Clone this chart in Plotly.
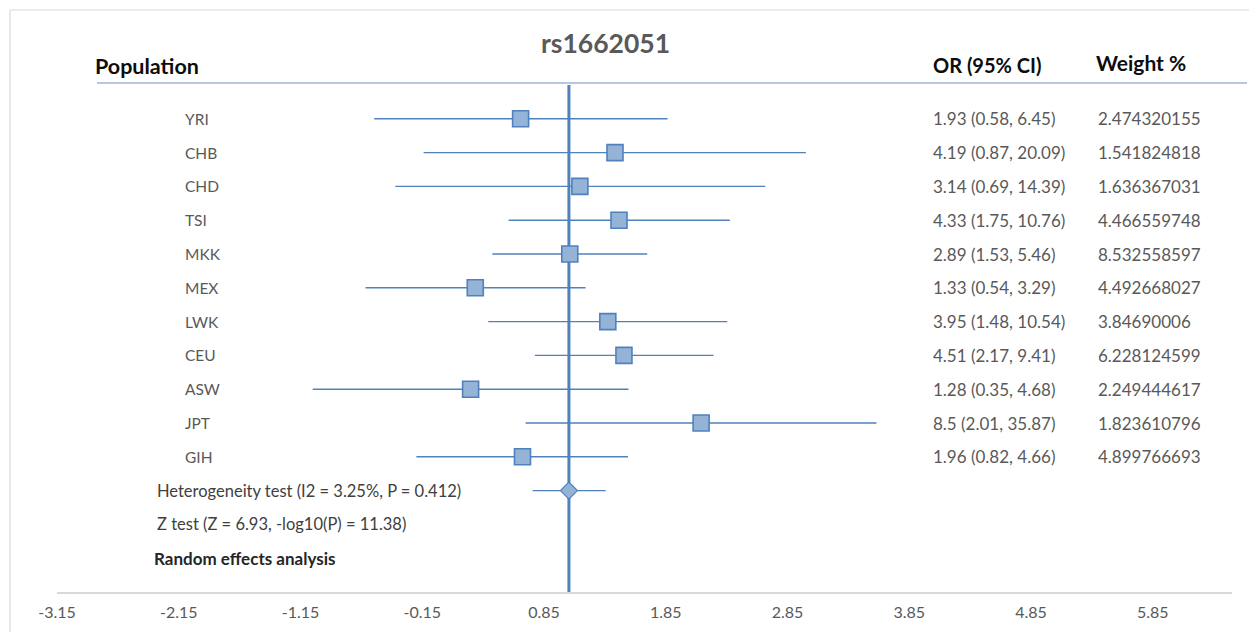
import math
import plotly.graph_objects as go

# Per-population odds ratios with 95% confidence intervals and meta-analysis weights
populations = ["YRI", "CHB", "CHD", "TSI", "MKK", "MEX", "LWK", "CEU", "ASW", "JPT", "GIH"]
odds_ratio = [1.93, 4.19, 3.14, 4.33, 2.89, 1.33, 3.95, 4.51, 1.28, 8.5, 1.96]
ci_low = [0.58, 0.87, 0.69, 1.75, 1.53, 0.54, 1.48, 2.17, 0.35, 2.01, 0.82]
ci_high = [6.45, 20.09, 14.39, 10.76, 5.46, 3.29, 10.54, 9.41, 4.68, 35.87, 4.66]
weights = [2.474320155, 1.541824818, 1.636367031, 4.466559748, 8.532558597,
           4.492668027, 3.84690006, 6.228124599, 2.249444617, 1.823610796, 4.899766693]

# Pooled (random effects) estimate
pooled_or = 2.87
pooled_low = 2.13
pooled_high = 3.88

summary_lines = [
    "Heterogeneity test (I2 = 3.25%, P = 0.412)",
    "Z test (Z = 6.93, -log10(P) = 11.38)",
]
summary_title = "Random effects analysis"
tick_values = [-3.15, -2.15, -1.15, -0.15, 0.85, 1.85, 2.85, 3.85, 4.85, 5.85]

W, H = 1249, 632
FONT = "Lato"
GREY = "#595959"
BLUE = "#4F81BD"
FILL = "#95B3D7"


def fx(px):
    return px / W


def fy(py):
    return 1 - py / H


rows = list(range(1, len(populations) + 1))
log_or = [math.log(v) for v in odds_ratio]
err_plus = [math.log(h) - math.log(v) for v, h in zip(odds_ratio, ci_high)]
err_minus = [math.log(v) - math.log(l) for v, l in zip(odds_ratio, ci_low)]

pooled_row = len(populations) + 1
pooled_x = math.log(pooled_or)

fig = go.Figure()

fig.add_trace(go.Scatter(
    x=log_or, y=rows, mode="markers",
    marker=dict(symbol="square", size=16, color=FILL, line=dict(color=BLUE, width=1.6)),
    error_x=dict(type="data", symmetric=False, array=err_plus, arrayminus=err_minus,
                 color=BLUE, thickness=1.4, width=0),
    hoverinfo="skip", showlegend=False,
))

fig.add_trace(go.Scatter(
    x=[pooled_x], y=[pooled_row], mode="markers",
    marker=dict(symbol="diamond", size=13, color=FILL, line=dict(color=BLUE, width=1.2)),
    error_x=dict(type="data", symmetric=False,
                 array=[math.log(pooled_high) - pooled_x],
                 arrayminus=[pooled_x - math.log(pooled_low)],
                 color=BLUE, thickness=1.4, width=0),
    hoverinfo="skip", showlegend=False,
))

shapes = [
    # pooled effect reference line
    dict(type="line", xref="x", yref="y", x0=pooled_x, x1=pooled_x, y0=0, y1=15,
         line=dict(color=BLUE, width=3), layer="below"),
    # header rule
    dict(type="line", xref="paper", yref="paper", x0=fx(97), x1=fx(1247), y0=fy(83), y1=fy(83),
         line=dict(color="#B4C7E7", width=2.2)),
    # chart border (top and left)
    dict(type="line", xref="paper", yref="paper", x0=fx(10), x1=1.0, y0=fy(10), y1=fy(10),
         line=dict(color="#D9D9D9", width=1.2)),
    dict(type="line", xref="paper", yref="paper", x0=fx(10), x1=fx(10), y0=fy(10), y1=0,
         line=dict(color="#D9D9D9", width=1.2)),
]

annotations = [
    dict(text="<b>rs1662051</b>", xref="paper", yref="paper", x=fx(605), y=fy(43),
         xanchor="center", yanchor="middle", showarrow=False,
         font=dict(family=FONT, size=26.5, color=GREY)),
    dict(text="<b>Population</b>", xref="paper", yref="paper", x=fx(93), y=fy(66),
         xanchor="left", yanchor="middle", showarrow=False,
         font=dict(family=FONT, size=21.5, color="#0D0D0D")),
    dict(text="<b>OR (95% CI)</b>", xref="paper", yref="paper", x=fx(931), y=fy(65),
         xanchor="left", yanchor="middle", showarrow=False,
         font=dict(family=FONT, size=20, color="#0D0D0D")),
    dict(text="<b>Weight %</b>", xref="paper", yref="paper", x=fx(1094), y=fy(63),
         xanchor="left", yanchor="middle", showarrow=False,
         font=dict(family=FONT, size=21, color="#0D0D0D")),
]

for r, name, v, lo, hi, w in zip(rows, populations, odds_ratio, ci_low, ci_high, weights):
    annotations.append(dict(text=name, xref="paper", yref="y", x=fx(183), y=r,
                            xanchor="left", yanchor="middle", showarrow=False,
                            font=dict(family=FONT, size=15.5, color=GREY)))
    annotations.append(dict(text=f"{v} ({lo}, {hi})", xref="paper", yref="y", x=fx(931), y=r,
                            xanchor="left", yanchor="middle", showarrow=False,
                            font=dict(family=FONT, size=17, color=GREY)))
    annotations.append(dict(text=f"{w}", xref="paper", yref="y", x=fx(1096), y=r,
                            xanchor="left", yanchor="middle", showarrow=False,
                            font=dict(family=FONT, size=17, color=GREY)))

for i, line in enumerate(summary_lines):
    annotations.append(dict(text=line, xref="paper", yref="y", x=fx(155), y=pooled_row + i,
                            xanchor="left", yanchor="middle", showarrow=False,
                            font=dict(family=FONT, size=16.5, color="#404040")))
annotations.append(dict(text=f"<b>{summary_title}</b>", xref="paper", yref="y", x=fx(152),
                        y=pooled_row + len(summary_lines), xanchor="left", yanchor="middle",
                        showarrow=False, font=dict(family=FONT, size=17, color="#262626")))

fig.update_layout(
    width=W, height=H,
    margin=dict(l=0, r=0, t=0, b=0, autoexpand=False),
    paper_bgcolor="white", plot_bgcolor="white",
    showlegend=False,
    shapes=shapes, annotations=annotations,
    xaxis=dict(domain=[fx(57), fx(1232)], range=[-3.15, 6.5],
               tickmode="array", tickvals=tick_values,
               ticktext=[f"{t:.2f}" for t in tick_values],
               showgrid=False, zeroline=False,
               showline=True, linecolor="#D9D9D9", linewidth=1.5,
               ticks="outside", ticklen=5, tickcolor="rgba(0,0,0,0)",
               tickfont=dict(family=FONT, size=16, color=GREY)),
    yaxis=dict(domain=[fy(592), fy(85)], range=[15, 0],
               visible=False, showgrid=False, zeroline=False),
)

fig.write_html("out.html")
